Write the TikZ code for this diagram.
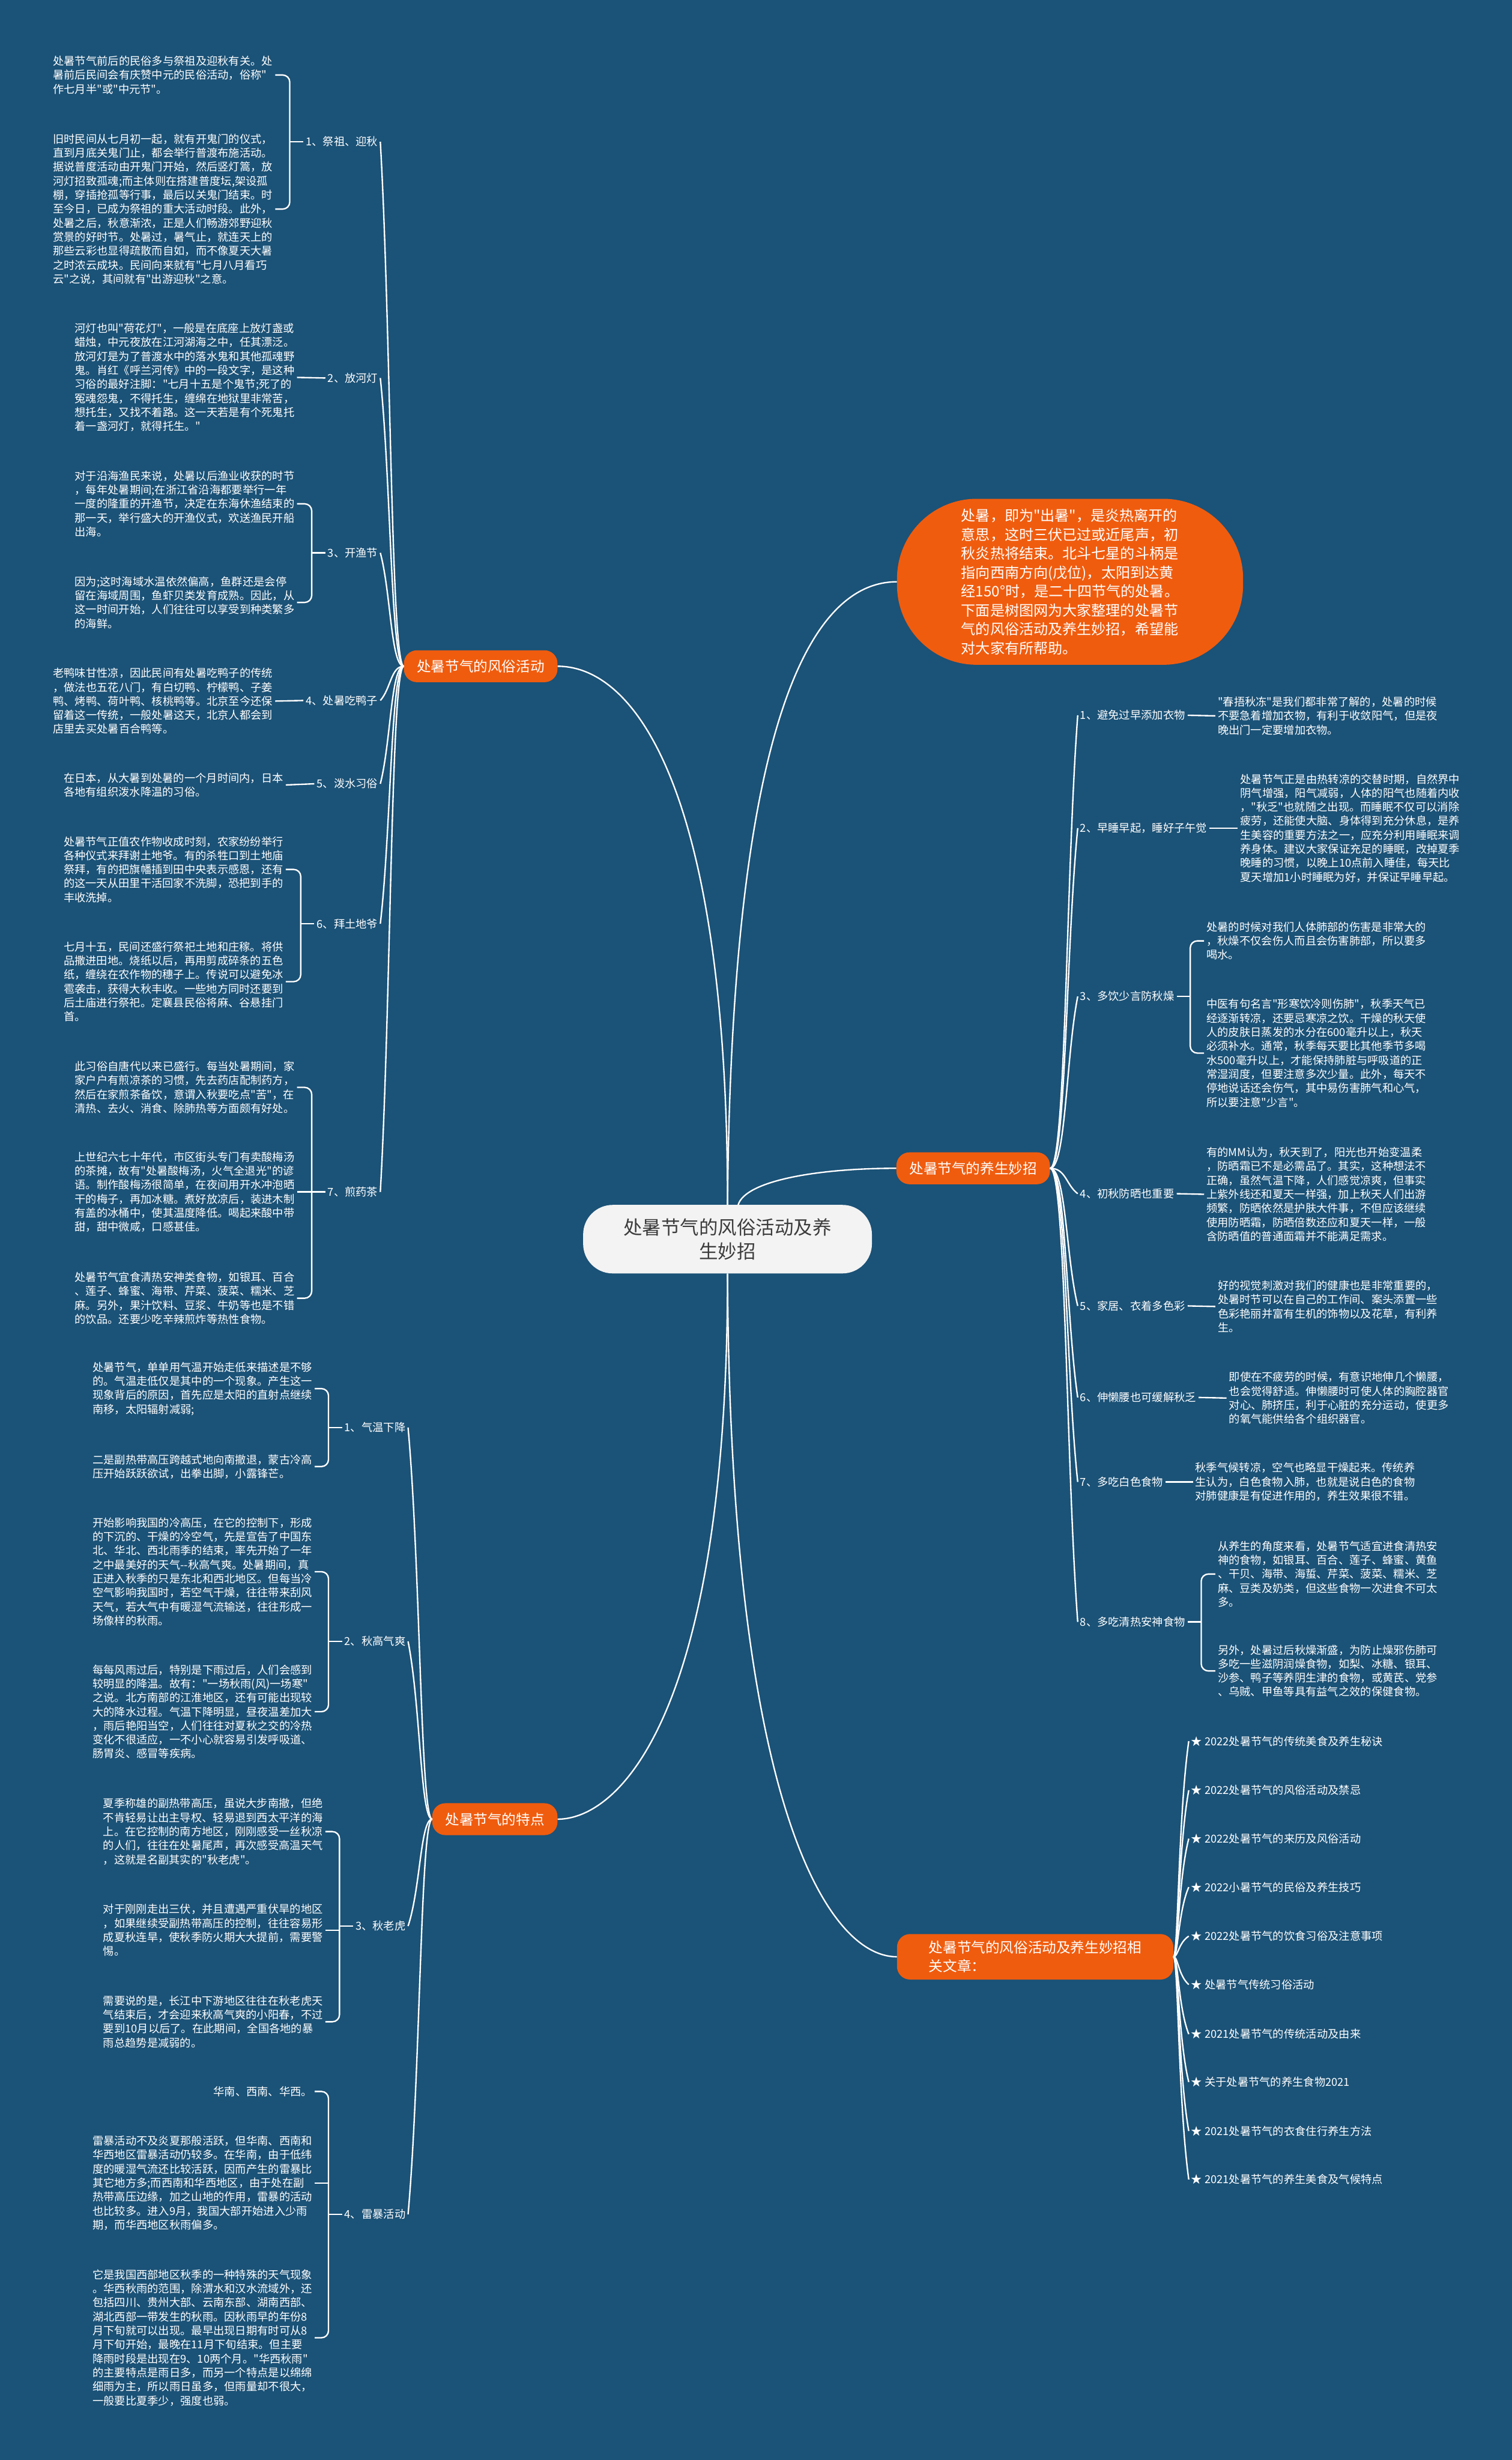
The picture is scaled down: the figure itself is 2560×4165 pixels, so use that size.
\documentclass[tikz,border=0pt]{standalone}
\usepackage{fontspec}
\newfontfamily\cjkfont{Noto Sans CJK SC}

\definecolor{bgblue}{RGB}{27,82,119}
\definecolor{mmorange}{RGB}{240,92,14}
\definecolor{rootgray}{RGB}{243,243,243}
\definecolor{roottext}{RGB}{60,60,60}

\begin{document}
\begin{tikzpicture}[
    x=1pt, y=-1pt,
    link/.style={draw=white, line width=2.4pt},
    bracket/.style={link, rounded corners=12pt},
    rootbox/.style={fill=rootgray, rounded corners=50pt, minimum width=489pt, minimum height=116pt, align=center, text=roottext, font=\cjkfont\fontsize{32}{41}\selectfont},
    mainbox/.style={fill=mmorange, rounded corners=22pt, minimum height=54pt, inner xsep=22pt, align=left, text=white, font=\cjkfont\fontsize{24}{32}\selectfont},
    introbox/.style={fill=mmorange, rounded corners=135pt, minimum width=586pt, minimum height=281pt, align=left, text=white, font=\cjkfont\fontsize{24.5}{32}\selectfont},
    itemlbl/.style={text=white, inner sep=4pt, font=\cjkfont\fontsize{18.6}{23.7}\selectfont},
    para/.style={text=white, inner sep=4pt, align=left, font=\cjkfont\fontsize{18.6}{23.7}\selectfont},
]

\fill[bgblue] (0,0) rectangle (2560,4165);

% ============ centre and main branches ============
\node[rootbox] (root) at (1232,2098) {处暑节气的风俗活动及养\\生妙招};

\node[introbox] (intro) at (1812,985) {处暑，即为"出暑"，是炎热离开的\\意思，这时三伏已过或近尾声，初\\秋炎热将结束。北斗七星的斗柄是\\指向西南方向(戊位)，太阳到达黄\\经150°时，是二十四节气的处暑。\\下面是树图网为大家整理的处暑节\\气的风俗活动及养生妙招，希望能\\对大家有所帮助。};

\node[mainbox] (fengsu) at (814,1128) {处暑节气的风俗活动};
\node[mainbox] (yangsheng) at (1648,1978) {处暑节气的养生妙招};
\node[mainbox] (tedian) at (838,3080) {处暑节气的特点};
\node[mainbox, minimum width=468pt, minimum height=77pt] (wenzhang) at (1753,3313) {处暑节气的风俗活动及养生妙招相\\关文章：};

\draw[link] (root.north) .. controls (1232,1350) and (1080,1128) .. (fengsu.east);
\draw[link] (root.north) .. controls (1238,1300) and (1350,985) .. (intro.west);
\draw[link] ([xshift=18pt]root.north) .. controls (1262,2000) and (1380,1978) .. (yangsheng.west);
\draw[link] (root.south) .. controls (1232,2900) and (1050,3080) .. (tedian.east);
\draw[link] (root.south) .. controls (1236,3050) and (1400,3313) .. (wenzhang.west);

% ============ (a) 风俗活动 ============
\node[itemlbl, anchor=east] (fs1) at (644,240) {1、祭祖、迎秋};
\node[itemlbl, anchor=east] (fs2) at (644,640) {2、放河灯};
\node[itemlbl, anchor=east] (fs3) at (644,936) {3、开渔节};
\node[itemlbl, anchor=east] (fs4) at (644,1186) {4、处暑吃鸭子};
\node[itemlbl, anchor=east] (fs5) at (644,1327) {5、泼水习俗};
\node[itemlbl, anchor=east] (fs6) at (644,1564) {6、拜土地爷};
\node[itemlbl, anchor=east] (fs7) at (644,2018) {7、煎药茶};

\node[para, anchor=east] (fs1a) at (466,127) {处暑节气前后的民俗多与祭祖及迎秋有关。处\\暑前后民间会有庆赞中元的民俗活动，俗称"\\作七月半"或"中元节"。};
\node[para, anchor=east] (fs1b) at (466,354) {旧时民间从七月初一起，就有开鬼门的仪式，\\直到月底关鬼门止，都会举行普渡布施活动。\\据说普度活动由开鬼门开始，然后竖灯篙，放\\河灯招致孤魂;而主体则在搭建普度坛,架设孤\\棚，穿插抢孤等行事，最后以关鬼门结束。时\\至今日，已成为祭祖的重大活动时段。此外，\\处暑之后，秋意渐浓，正是人们畅游郊野迎秋\\赏景的好时节。处暑过，暑气止，就连天上的\\那些云彩也显得疏散而自如，而不像夏天大暑\\之时浓云成块。民间向来就有"七月八月看巧\\云"之说，其间就有"出游迎秋"之意。};
\node[para, anchor=east] (fs2a) at (503,639) {河灯也叫"荷花灯"，一般是在底座上放灯盏或\\蜡烛，中元夜放在江河湖海之中，任其漂泛。\\放河灯是为了普渡水中的落水鬼和其他孤魂野\\鬼。肖红《呼兰河传》中的一段文字，是这种\\习俗的最好注脚："七月十五是个鬼节;死了的\\冤魂怨鬼，不得托生，缠绵在地狱里非常苦，\\想托生，又找不着路。这一天若是有个死鬼托\\着一盏河灯，就得托生。"};
\node[para, anchor=east] (fs3a) at (503,853) {对于沿海渔民来说，处暑以后渔业收获的时节\\，每年处暑期间;在浙江省沿海都要举行一年\\一度的隆重的开渔节，决定在东海休渔结束的\\那一天，举行盛大的开渔仪式，欢送渔民开船\\出海。};
\node[para, anchor=east] (fs3b) at (503,1020) {因为;这时海域水温依然偏高，鱼群还是会停\\留在海域周围，鱼虾贝类发育成熟。因此，从\\这一时间开始，人们往往可以享受到种类繁多\\的海鲜。};
\node[para, anchor=east] (fs4a) at (466,1187) {老鸭味甘性凉，因此民间有处暑吃鸭子的传统\\，做法也五花八门，有白切鸭、柠檬鸭、子姜\\鸭、烤鸭、荷叶鸭、核桃鸭等。北京至今还保\\留着这一传统，一般处暑这天，北京人都会到\\店里去买处暑百合鸭等。};
\node[para, anchor=east] (fs5a) at (484,1329) {在日本，从大暑到处暑的一个月时间内，日本\\各地有组织泼水降温的习俗。};
\node[para, anchor=east] (fs6a) at (484,1472) {处暑节气正值农作物收成时刻，农家纷纷举行\\各种仪式来拜谢土地爷。有的杀牲口到土地庙\\祭拜，有的把旗幡插到田中央表示感恩，还有\\的这一天从田里干活回家不洗脚，恐把到手的\\丰收洗掉。};
\node[para, anchor=east] (fs6b) at (484,1662) {七月十五，民间还盛行祭祀土地和庄稼。将供\\品撒进田地。烧纸以后，再用剪成碎条的五色\\纸，缠绕在农作物的穗子上。传说可以避免冰\\雹袭击，获得大秋丰收。一些地方同时还要到\\后土庙进行祭祀。定襄县民俗将麻、谷悬挂门\\首。};
\node[para, anchor=east] (fs7a) at (503,1841) {此习俗自唐代以来已盛行。每当处暑期间，家\\家户户有煎凉茶的习惯，先去药店配制药方，\\然后在家煎茶备饮，意谓入秋要吃点"苦"，在\\清热、去火、消食、除肺热等方面颇有好处。};
\node[para, anchor=east] (fs7b) at (503,2018) {上世纪六七十年代，市区街头专门有卖酸梅汤\\的茶摊，故有"处暑酸梅汤，火气全退光"的谚\\语。制作酸梅汤很简单，在夜间用开水冲泡晒\\干的梅子，再加冰糖。煮好放凉后，装进木制\\有盖的冰桶中，使其温度降低。喝起来酸中带\\甜，甜中微咸，口感甚佳。};
\node[para, anchor=east] (fs7c) at (503,2198) {处暑节气宜食清热安神类食物，如银耳、百合\\、莲子、蜂蜜、海带、芹菜、菠菜、糯米、芝\\麻。另外，果汁饮料、豆浆、牛奶等也是不错\\的饮品。还要少吃辛辣煎炸等热性食物。};

\draw[link] (fs1.east) .. controls (662,551) and (662,1128) .. (fengsu.west);
\draw[link] (fs2.east) .. controls (662,811) and (662,1128) .. (fengsu.west);
\draw[link] (fs3.east) .. controls (662,1003) and (662,1128) .. (fengsu.west);
\draw[link] (fs4.east) .. controls (662,1166) and (662,1128) .. (fengsu.west);
\draw[link] (fs5.east) .. controls (662,1257) and (662,1128) .. (fengsu.west);
\draw[link] (fs6.east) .. controls (662,1411) and (662,1128) .. (fengsu.west);
\draw[link] (fs7.east) .. controls (662,1706) and (662,1128) .. (fengsu.west);

\draw[link] (fs1.west) -- ++(-23,0) coordinate (fs1k);
\draw[bracket] (fs1a.east) -| (fs1k) |- (fs1b.east);
\draw[link] (fs2.west) -- (fs2a.east);
\draw[link] (fs3.west) -- ++(-23,0) coordinate (fs3k);
\draw[bracket] (fs3a.east) -| (fs3k) |- (fs3b.east);
\draw[link] (fs4.west) -- (fs4a.east);
\draw[link] (fs5.west) -- (fs5a.east);
\draw[link] (fs6.west) -- ++(-23,0) coordinate (fs6k);
\draw[bracket] (fs6a.east) -| (fs6k) |- (fs6b.east);
\draw[link] (fs7.west) -- ++(-23,0) coordinate (fs7k);
\draw[bracket] (fs7a.east) -| (fs7k) |- (fs7c.east);
\draw[link] (fs7b.east) -- (fs7b.east -| fs7k);

% ============ (b) 特点 ============
\node[itemlbl, anchor=east] (td1) at (691,2417) {1、气温下降};
\node[itemlbl, anchor=east] (td2) at (691,2779) {2、秋高气爽};
\node[itemlbl, anchor=east] (td3) at (691,3261) {3、秋老虎};
\node[itemlbl, anchor=east] (td4) at (691,3749) {4、雷暴活动};

\node[para, anchor=east] (td1a) at (533,2351) {处暑节气，单单用气温开始走低来描述是不够\\的。气温走低仅是其中的一个现象。产生这一\\现象背后的原因，首先应是太阳的直射点继续\\南移，太阳辐射减弱;};
\node[para, anchor=east] (td1b) at (533,2483) {二是副热带高压跨越式地向南撤退，蒙古冷高\\压开始跃跃欲试，出拳出脚，小露锋芒。};
\node[para, anchor=east] (td2a) at (533,2661) {开始影响我国的冷高压，在它的控制下，形成\\的下沉的、干燥的冷空气，先是宣告了中国东\\北、华北、西北雨季的结束，率先开始了一年\\之中最美好的天气{-}{-}秋高气爽。处暑期间，真\\正进入秋季的只是东北和西北地区。但每当冷\\空气影响我国时，若空气干燥，往往带来刮风\\天气，若大气中有暖湿气流输送，往往形成一\\场像样的秋雨。};
\node[para, anchor=east] (td2b) at (533,2898) {每每风雨过后，特别是下雨过后，人们会感到\\较明显的降温。故有："一场秋雨(风)一场寒"\\之说。北方南部的江淮地区，还有可能出现较\\大的降水过程。气温下降明显，昼夜温差加大\\，雨后艳阳当空，人们往往对夏秋之交的冷热\\变化不很适应，一不小心就容易引发呼吸道、\\肠胃炎、感冒等疾病。};
\node[para, anchor=east] (td3a) at (551,3101) {夏季称雄的副热带高压，虽说大步南撤，但绝\\不肯轻易让出主导权、轻易退到西太平洋的海\\上。在它控制的南方地区，刚刚感受一丝秋凉\\的人们，往往在处暑尾声，再次感受高温天气\\，这就是名副其实的"秋老虎"。};
\node[para, anchor=east] (td3b) at (551,3268) {对于刚刚走出三伏，并且遭遇严重伏旱的地区\\，如果继续受副热带高压的控制，往往容易形\\成夏秋连旱，使秋季防火期大大提前，需要警\\惕。};
\node[para, anchor=east] (td3c) at (551,3423) {需要说的是，长江中下游地区往往在秋老虎天\\气结束后，才会迎来秋高气爽的小阳春，不过\\要到10月以后了。在此期间，全国各地的暴\\雨总趋势是减弱的。};
\node[para, anchor=east] (td4a) at (533,3541) {华南、西南、华西。};
\node[para, anchor=east] (td4b) at (533,3696) {雷暴活动不及炎夏那般活跃，但华南、西南和\\华西地区雷暴活动仍较多。在华南，由于低纬\\度的暖湿气流还比较活跃，因而产生的雷暴比\\其它地方多;而西南和华西地区，由于处在副\\热带高压边缘，加之山地的作用，雷暴的活动\\也比较多。进入9月，我国大部开始进入少雨\\期，而华西地区秋雨偏多。};
\node[para, anchor=east] (td4c) at (533,3958) {它是我国西部地区秋季的一种特殊的天气现象\\。华西秋雨的范围，除渭水和汉水流域外，还\\包括四川、贵州大部、云南东部、湖南西部、\\湖北西部一带发生的秋雨。因秋雨早的年份8\\月下旬就可以出现。最早出现日期有时可从8\\月下旬开始，最晚在11月下旬结束。但主要\\降雨时段是出现在9、10两个月。"华西秋雨"\\的主要特点是雨日多，而另一个特点是以绵绵\\细雨为主，所以雨日虽多，但雨量却不很大，\\一般要比夏季少，强度也弱。};

\draw[link] (td1.east) .. controls (712,2649) and (712,3080) .. (tedian.west);
\draw[link] (td2.east) .. controls (712,2884) and (712,3080) .. (tedian.west);
\draw[link] (td3.east) .. controls (712,3198) and (712,3080) .. (tedian.west);
\draw[link] (td4.east) .. controls (712,3515) and (712,3080) .. (tedian.west);

\draw[link] (td1.west) -- ++(-23,0) coordinate (td1k);
\draw[bracket] (td1a.east) -| (td1k) |- (td1b.east);
\draw[link] (td2.west) -- ++(-23,0) coordinate (td2k);
\draw[bracket] (td2a.east) -| (td2k) |- (td2b.east);
\draw[link] (td3.west) -- ++(-23,0) coordinate (td3k);
\draw[bracket] (td3a.east) -| (td3k) |- (td3c.east);
\draw[link] (td3b.east) -- (td3b.east -| td3k);
\draw[link] (td4.west) -- ++(-23,0) coordinate (td4k);
\draw[bracket] (td4a.east) -| (td4k) |- (td4c.east);
\draw[link] (td4b.east) -- (td4b.east -| td4k);

% ============ (c) 养生妙招 ============
\node[itemlbl, anchor=west] (ys1) at (1825,1211) {1、避免过早添加衣物};
\node[itemlbl, anchor=west] (ys2) at (1825,1402) {2、早睡早起，睡好子午觉};
\node[itemlbl, anchor=west] (ys3) at (1825,1687) {3、多饮少言防秋燥};
\node[itemlbl, anchor=west] (ys4) at (1825,2021) {4、初秋防晒也重要};
\node[itemlbl, anchor=west] (ys5) at (1825,2211) {5、家居、衣着多色彩};
\node[itemlbl, anchor=west] (ys6) at (1825,2366) {6、伸懒腰也可缓解秋乏};
\node[itemlbl, anchor=west] (ys7) at (1825,2509) {7、多吃白色食物};
\node[itemlbl, anchor=west] (ys8) at (1825,2746) {8、多吃清热安神食物};

\node[para, anchor=west] (ys1a) at (2058,1212) {"春捂秋冻"是我们都非常了解的，处暑的时候\\不要急着增加衣物，有利于收敛阳气，但是夜\\晚出门一定要增加衣物。};
\node[para, anchor=west] (ys2a) at (2096,1402) {处暑节气正是由热转凉的交替时期，自然界中\\阴气增强，阳气减弱，人体的阳气也随着内收\\，"秋乏"也就随之出现。而睡眠不仅可以消除\\疲劳，还能使大脑、身体得到充分休息，是养\\生美容的重要方法之一，应充分利用睡眠来调\\养身体。建议大家保证充足的睡眠，改掉夏季\\晚睡的习惯，以晚上10点前入睡佳，每天比\\夏天增加1小时睡眠为好，并保证早睡早起。};
\node[para, anchor=west] (ys3a) at (2039,1593) {处暑的时候对我们人体肺部的伤害是非常大的\\，秋燥不仅会伤人而且会伤害肺部，所以要多\\喝水。};
\node[para, anchor=west] (ys3b) at (2039,1783) {中医有句名言"形寒饮冷则伤肺"，秋季天气已\\经逐渐转凉，还要忌寒凉之饮。干燥的秋天使\\人的皮肤日蒸发的水分在600毫升以上，秋天\\必须补水。通常，秋季每天要比其他季节多喝\\水500毫升以上，才能保持肺脏与呼吸道的正\\常湿润度，但要注意多次少量。此外，每天不\\停地说话还会伤气，其中易伤害肺气和心气，\\所以要注意"少言"。};
\node[para, anchor=west] (ys4a) at (2039,2022) {有的MM认为，秋天到了，阳光也开始变温柔\\，防晒霜已不是必需品了。其实，这种想法不\\正确，虽然气温下降，人们感觉凉爽，但事实\\上紫外线还和夏天一样强，加上秋天人们出游\\频繁，防晒依然是护肤大件事，不但应该继续\\使用防晒霜，防晒倍数还应和夏天一样，一般\\含防晒值的普通面霜并不能满足需求。};
\node[para, anchor=west] (ys5a) at (2058,2212) {好的视觉刺激对我们的健康也是非常重要的，\\处暑时节可以在自己的工作间、案头添置一些\\色彩艳丽并富有生机的饰物以及花草，有利养\\生。};
\node[para, anchor=west] (ys6a) at (2077,2367) {即使在不疲劳的时候，有意识地伸几个懒腰，\\也会觉得舒适。伸懒腰时可使人体的胸腔器官\\对心、肺挤压，利于心脏的充分运动，使更多\\的氧气能供给各个组织器官。};
\node[para, anchor=west] (ys7a) at (2020,2509) {秋季气候转凉，空气也略显干燥起来。传统养\\生认为，白色食物入肺，也就是说白色的食物\\对肺健康是有促进作用的，养生效果很不错。};
\node[para, anchor=west] (ys8a) at (2058,2665) {从养生的角度来看，处暑节气适宜进食清热安\\神的食物，如银耳、百合、莲子、蜂蜜、黄鱼\\、干贝、海带、海蜇、芹菜、菠菜、糯米、芝\\麻、豆类及奶类，但这些食物一次进食不可太\\多。};
\node[para, anchor=west] (ys8b) at (2058,2829) {另外，处暑过后秋燥渐盛，为防止燥邪伤肺可\\多吃一些滋阴润燥食物，如梨、冰糖、银耳、\\沙参、鸭子等养阴生津的食物，或黄芪、党参\\、乌贼、甲鱼等具有益气之效的保健食物。};

\draw[link] (ys1.west) .. controls (1805,1479) and (1805,1978) .. (yangsheng.east);
\draw[link] (ys2.west) .. controls (1805,1604) and (1805,1978) .. (yangsheng.east);
\draw[link] (ys3.west) .. controls (1805,1789) and (1805,1978) .. (yangsheng.east);
\draw[link] (ys4.west) .. controls (1805,2006) and (1805,1978) .. (yangsheng.east);
\draw[link] (ys5.west) .. controls (1805,2129) and (1805,1978) .. (yangsheng.east);
\draw[link] (ys6.west) .. controls (1805,2230) and (1805,1978) .. (yangsheng.east);
\draw[link] (ys7.west) .. controls (1805,2323) and (1805,1978) .. (yangsheng.east);
\draw[link] (ys8.west) .. controls (1805,2477) and (1805,1978) .. (yangsheng.east);

\draw[link] (ys1.east) -- (ys1a.west);
\draw[link] (ys2.east) -- (ys2a.west);
\draw[link] (ys3.east) -- ++(23,0) coordinate (ys3k);
\draw[bracket] (ys3a.west) -| (ys3k) |- (ys3b.west);
\draw[link] (ys4.east) -- (ys4a.west);
\draw[link] (ys5.east) -- (ys5a.west);
\draw[link] (ys6.east) -- (ys6a.west);
\draw[link] (ys7.east) -- (ys7a.west);
\draw[link] (ys8.east) -- ++(23,0) coordinate (ys8k);
\draw[bracket] (ys8a.west) -| (ys8k) |- (ys8b.west);

% ============ (d) 相关文章 ============
\node[itemlbl, anchor=west] (wz1) at (2013,2948) {★ 2022处暑节气的传统美食及养生秘诀};
\node[itemlbl, anchor=west] (wz2) at (2013,3031) {★ 2022处暑节气的风俗活动及禁忌};
\node[itemlbl, anchor=west] (wz3) at (2013,3113) {★ 2022处暑节气的来历及风俗活动};
\node[itemlbl, anchor=west] (wz4) at (2013,3195) {★ 2022小暑节气的民俗及养生技巧};
\node[itemlbl, anchor=west] (wz5) at (2013,3278) {★ 2022处暑节气的饮食习俗及注意事项};
\node[itemlbl, anchor=west] (wz6) at (2013,3360) {★ 处暑节气传统习俗活动};
\node[itemlbl, anchor=west] (wz7) at (2013,3444) {★ 2021处暑节气的传统活动及由来};
\node[itemlbl, anchor=west] (wz8) at (2013,3525) {★ 关于处暑节气的养生食物2021};
\node[itemlbl, anchor=west] (wz9) at (2013,3608) {★ 2021处暑节气的衣食住行养生方法};
\node[itemlbl, anchor=west] (wz10) at (2013,3690) {★ 2021处暑节气的养生美食及气候特点};

\draw[link] (wz1.west) .. controls (1995,3076) and (1995,3313) .. (wenzhang.east);
\draw[link] (wz2.west) .. controls (1995,3130) and (1995,3313) .. (wenzhang.east);
\draw[link] (wz3.west) .. controls (1995,3183) and (1995,3313) .. (wenzhang.east);
\draw[link] (wz4.west) .. controls (1995,3236) and (1995,3313) .. (wenzhang.east);
\draw[link] (wz5.west) .. controls (1995,3290) and (1995,3313) .. (wenzhang.east);
\draw[link] (wz6.west) .. controls (1995,3344) and (1995,3313) .. (wenzhang.east);
\draw[link] (wz7.west) .. controls (1995,3398) and (1995,3313) .. (wenzhang.east);
\draw[link] (wz8.west) .. controls (1995,3451) and (1995,3313) .. (wenzhang.east);
\draw[link] (wz9.west) .. controls (1995,3505) and (1995,3313) .. (wenzhang.east);
\draw[link] (wz10.west) .. controls (1995,3558) and (1995,3313) .. (wenzhang.east);

\end{tikzpicture}
\end{document}
